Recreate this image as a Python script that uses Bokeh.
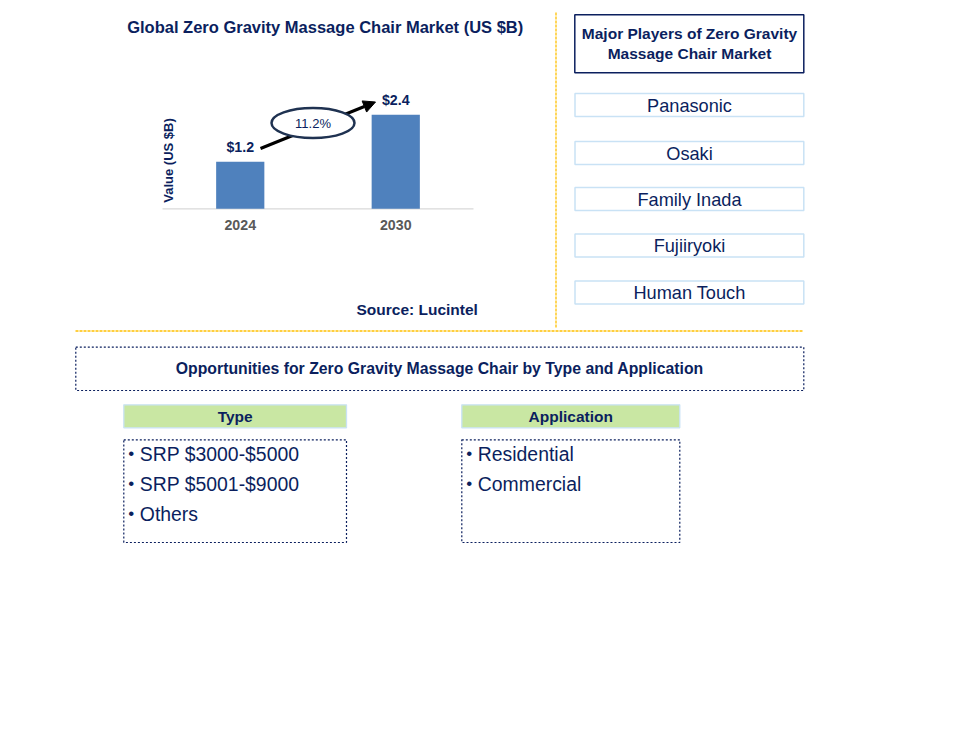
from math import pi
from bokeh.plotting import figure
from bokeh.models import Range1d, Arrow, NormalHead
from bokeh.core.properties import value
from bokeh.embed import file_html
from bokeh.resources import INLINE

# ---------------- data ----------------
years = ["2024", "2030"]
market_values = [1.2, 2.4]
value_labels = ["$1.2", "$2.4"]
cagr_label = "11.2%"
chart_title = "Global Zero Gravity Massage Chair Market (US $B)"
y_axis_title = "Value (US $B)"
source_note = "Source: Lucintel"
players_title = ["Major Players of Zero Gravity", "Massage Chair Market"]
players = ["Panasonic", "Osaki", "Family Inada", "Fujiiryoki", "Human Touch"]
opp_title = "Opportunities for Zero Gravity Massage Chair by Type and Application"
segment_headers = ["Type", "Application"]
type_items = ["SRP $3000-$5000", "SRP $5001-$9000", "Others"]
application_items = ["Residential", "Commercial"]

# ---------------- style ----------------
FONT = value("Liberation Sans")
NAVY = "#0B1F5E"
BAR = "#4F81BD"
ORANGE = "#FFC000"
LIGHTBLUE = "#C9E2F5"
GREEN = "#C9E7A3"

p = figure(width=944, height=718, x_range=Range1d(0, 944), y_range=Range1d(718, 0),
           output_backend="svg", toolbar_location=None, min_border=0,
           x_axis_location=None, y_axis_location=None)
p.grid.visible = False
p.outline_line_color = None
p.background_fill_color = "white"


def label(x, y, txt, size, bold=False, color=NAVY, align="center", angle=0.0):
    p.text(x=[x], y=[y], text=[txt], text_font=FONT, text_font_size=f"{size}px",
           text_font_style="bold" if bold else "normal", text_color=color,
           text_align=align, text_baseline="middle", angle=angle)


# ---------------- bar chart ----------------
label(324.7, 26, chart_title, 16.5, bold=True)
label(168, 160, y_axis_title, 13, bold=True, angle=pi / 2)

xs = list(range(len(years)))
bars = p.subplot(x_source=Range1d(-0.5, len(years) - 0.5), y_source=Range1d(0, 3.0),
                 x_target=Range1d(162, 473), y_target=Range1d(208.3, 90.8))
bars.line(x=[-0.5, len(years) - 0.5], y=[0, 0], line_color="#D9D9D9", line_width=1.3)
bars.vbar(x=xs, top=market_values, bottom=0, width=0.31, fill_color=BAR, line_color=None)
bars.text(x=xs, y=market_values, text=value_labels, y_offset=-14.5, text_font=FONT,
          text_font_size="14.2px", text_font_style="bold", text_color=NAVY,
          text_align="center", text_baseline="middle")
bars.text(x=xs, y=[0] * len(xs), text=years, y_offset=16, text_font=FONT,
          text_font_size="14.2px", text_font_style="bold", text_color="#595959",
          text_align="center", text_baseline="middle")

arrow = Arrow(x_start=260, y_start=148, x_end=375, y_end=101.5, line_width=3,
              line_color="black",
              end=NormalHead(size=12, fill_color="black", line_color="black"),
              level="underlay")
p.add_layout(arrow)
p.ellipse(x=[312.5], y=[122.5], width=[83], height=[30], fill_color="white",
          line_color="#1F3251", line_width=2.5)
label(312.5, 122.5, cagr_label, 13)

label(416.7, 309, source_note, 15.5, bold=True)

# dashed separators
p.segment(x0=[555.5, 75], y0=[12, 330.5], x1=[555.5, 803], y1=[328, 330.5],
          line_color=ORANGE, line_width=1.3, line_dash="3 1")

# ---------------- major players ----------------
p.quad(left=[574.3], right=[803.3], top=[14.3], bottom=[72.3], fill_color=None,
       line_color=NAVY, line_width=1.5)
label(689, 32.5, players_title[0], 15.5, bold=True)
label(689, 53.3, players_title[1], 15.5, bold=True)

centers = [104.5, 152.5, 198.5, 245.0, 292.0]
for c, name in zip(centers, players):
    p.quad(left=[574.5], right=[803.3], top=[c - 11.5], bottom=[c + 11.5],
           fill_color=None, line_color=LIGHTBLUE, line_width=1.5)
    label(689, c + 0.5, name, 18.2)

# ---------------- opportunities ----------------
p.quad(left=[75.3], right=[803.3], top=[346.7], bottom=[390], fill_color=None,
       line_color=NAVY, line_width=1.2, line_dash="2 2")
label(439.3, 368.3, opp_title, 15.8, bold=True)

cols = [(123.3, 346.0, type_items), (461.3, 679.3, application_items)]
for (l, r, items), head in zip(cols, segment_headers):
    p.quad(left=[l], right=[r], top=[404.3], bottom=[427.3], fill_color=GREEN,
           line_color=LIGHTBLUE, line_width=1.3)
    label((l + r) / 2, 416, head, 15.5, bold=True)
    p.quad(left=[l], right=[r], top=[439.3], bottom=[542], fill_color=None,
           line_color=NAVY, line_width=1.2, line_dash="2 2")
    for k, it in enumerate(items):
        y = 453 + 30 * k
        label(l + 7.5, y, "\u2022", 17, align="center")
        label(l + 16, y, it, 19.4, align="left")

open("out.html", "w").write(file_html(p, INLINE))
